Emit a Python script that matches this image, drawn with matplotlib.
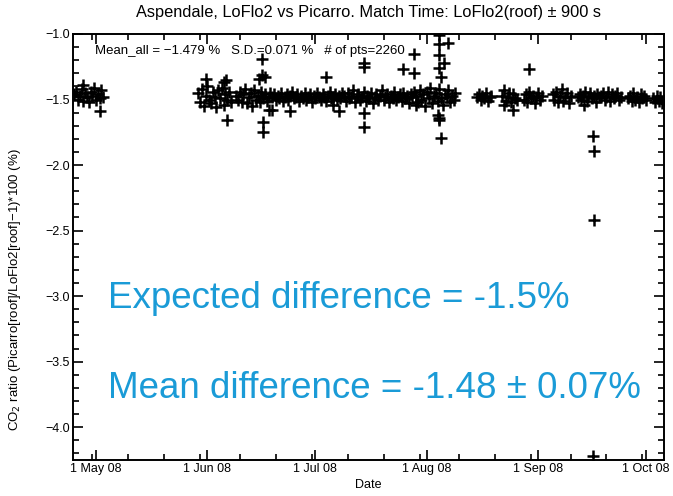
import numpy as np
import pandas as pd
import matplotlib
matplotlib.use("Agg")
import matplotlib.pyplot as plt
import matplotlib.dates as mdates
from matplotlib.ticker import MultipleLocator, FuncFormatter

plt.rcParams['font.family'] = ['Liberation Sans', 'DejaVu Sans']

# dense parts of the record: start time, then one value every 12 h
seg1_start = "2008-04-25"
seg1 = [-1.46, -1.44, -1.50, -1.47, -1.42, -1.51, -1.45, -1.48, -1.52, -1.44,
        -1.47, -1.41, -1.50, -1.46, -1.49, -1.43, -1.48]

seg2_start = "2008-05-29 12:00"
seg2 = [-1.45, -1.52, -1.42, -1.55, -1.47, -1.40, -1.50, -1.53, -1.44, -1.48,
        -1.56, -1.43, -1.49, -1.41, -1.54, -1.46, -1.50, -1.44, -1.52]

seg3_start = "2008-06-09"
seg3 = [-1.47, -1.50, -1.44, -1.52, -1.46, -1.42, -1.53, -1.48, -1.45, -1.55,
        -1.43, -1.50, -1.47, -1.52, -1.44, -1.49, -1.46, -1.51, -1.48, -1.45,
        -1.48, -1.46, -1.50, -1.47, -1.49, -1.45, -1.51, -1.48, -1.46, -1.50,
        -1.47, -1.44, -1.49, -1.48, -1.46, -1.51, -1.47, -1.49, -1.45, -1.50,
        -1.48, -1.46, -1.52, -1.47, -1.49, -1.45, -1.48, -1.50, -1.46, -1.48,
        -1.51, -1.47, -1.44, -1.49, -1.48, -1.46, -1.50, -1.47, -1.49, -1.45,
        -1.47, -1.51, -1.45, -1.49, -1.48, -1.43, -1.52, -1.47, -1.46, -1.50,
        -1.48, -1.44, -1.51, -1.47, -1.49, -1.45, -1.53, -1.48, -1.46, -1.50,
        -1.47, -1.43, -1.50, -1.48, -1.46, -1.52, -1.47, -1.49, -1.44, -1.50,
        -1.48, -1.46, -1.51, -1.45, -1.49, -1.47, -1.53, -1.46, -1.48, -1.44,
        -1.47, -1.52, -1.43, -1.50, -1.46, -1.55, -1.44, -1.49, -1.41, -1.53,
        -1.47, -1.45, -1.51, -1.42, -1.49, -1.54, -1.46, -1.48, -1.43, -1.52,
        -1.47, -1.50, -1.45]

c1_start = "2008-08-15"
c1 = [-1.48, -1.46, -1.50, -1.47, -1.49, -1.45, -1.51, -1.48, -1.47]
c2_start = "2008-08-22"
c2 = [-1.47, -1.43, -1.51, -1.48, -1.45, -1.52, -1.46, -1.49, -1.50]
c3_start = "2008-08-28"
c3 = [-1.50, -1.46, -1.52, -1.44, -1.49, -1.47, -1.53, -1.48, -1.45, -1.50, -1.47]
c4_start = "2008-09-05"
c4 = [-1.46, -1.50, -1.44, -1.52, -1.47, -1.42, -1.51, -1.48, -1.45, -1.53, -1.47]
c5_start = "2008-09-12"
c5 = [-1.48, -1.46, -1.50, -1.47, -1.44, -1.51, -1.48, -1.45, -1.49, -1.47,
      -1.52, -1.46, -1.48]
c6_start = "2008-09-18 12:00"
c6 = [-1.47, -1.45, -1.50, -1.48, -1.44, -1.51, -1.46, -1.49, -1.47, -1.45,
      -1.50, -1.48]
c7_start = "2008-09-26"
c7 = [-1.49, -1.47, -1.51, -1.45, -1.50, -1.48, -1.52, -1.46, -1.49, -1.47, -1.50]
c8_start = "2008-10-03"
c8 = [-1.49, -1.52, -1.47, -1.51, -1.48, -1.53, -1.50]

# scattered points away from the band
out_dates = ["2008-04-27 12:00", "2008-05-02 03:00",
             "2008-05-31 14:00", "2008-06-05 12:00", "2008-06-06 05:00", "2008-06-06 12:00",
             "2008-06-15 07:00", "2008-06-16 07:00", "2008-06-16 07:00", "2008-06-17 00:00",
             "2008-06-16 14:00", "2008-06-16 14:00", "2008-06-18 00:00", "2008-06-19 00:00",
             "2008-06-23 22:00", "2008-07-04 00:00", "2008-07-06 00:00", "2008-07-07 14:00",
             "2008-07-14 14:00", "2008-07-14 14:00", "2008-07-14 14:00", "2008-07-14 14:00",
             "2008-07-25 10:00", "2008-07-28 12:00", "2008-07-28 14:00", "2008-07-29 00:00",
             "2008-08-04 12:00", "2008-08-04 12:00", "2008-08-07 00:00", "2008-08-04 12:00",
             "2008-08-05 22:00", "2008-08-04 12:00", "2008-08-05 02:00", "2008-08-04 05:00",
             "2008-08-04 12:00", "2008-08-04 12:00", "2008-08-05 02:00",
             "2008-08-22 14:00", "2008-08-25 02:00", "2008-08-29 10:00", "2008-09-13 17:00",
             "2008-09-16 05:00", "2008-09-16 12:00", "2008-09-16 12:00", "2008-09-16 05:00"]
out_vals = [-1.39, -1.59,
            -1.34, -1.37, -1.35, -1.66,
            -1.34, -1.19, -1.31, -1.33,
            -1.67, -1.75, -1.58, -1.58,
            -1.59, -1.33, -1.54, -1.59,
            -1.22, -1.25, -1.60, -1.71,
            -1.27, -1.15, -1.30, -1.54,
            -1.01, -1.08, -1.07, -1.16,
            -1.22, -1.26, -1.33, -1.62,
            -1.64, -1.66, -1.79,
            -1.54, -1.58, -1.27, -1.54,
            -1.78, -1.89, -2.42, -4.22]

segments = [(seg1_start, seg1), (seg2_start, seg2), (seg3_start, seg3),
            (c1_start, c1), (c2_start, c2), (c3_start, c3), (c4_start, c4),
            (c5_start, c5), (c6_start, c6), (c7_start, c7), (c8_start, c8)]

t_all = [pd.date_range(s, periods=len(v), freq="12h") for s, v in segments]
t_all.append(pd.to_datetime(out_dates))
x = np.concatenate([t.to_numpy() for t in t_all])
y = np.concatenate([np.array(v) for s, v in segments] + [np.array(out_vals)])

fig = plt.figure(figsize=(6.73, 4.96), dpi=100)
ax = fig.add_axes([0.108, 0.0726, 0.8786, 0.8589])

ax.plot(x, y, linestyle="none", marker="+", color="black", markersize=8.5, markeredgewidth=1.8)

ax.set_xlim(pd.Timestamp("2008-04-24 12:00"), pd.Timestamp("2008-10-06"))
ax.set_ylim(-4.25, -1.0)

ax.xaxis.set_major_locator(mdates.MonthLocator())
ax.xaxis.set_minor_locator(mdates.DayLocator(bymonthday=[10, 20, 30]))
ax.xaxis.set_major_formatter(FuncFormatter(
    lambda v, p: mdates.num2date(v).strftime("%d %b %y").lstrip("0")))
ax.yaxis.set_major_locator(MultipleLocator(0.5))
ax.yaxis.set_minor_locator(MultipleLocator(0.1))
ax.yaxis.set_major_formatter(FuncFormatter(lambda v, p: f"{v:.1f}".replace("-", "\u2212")))

ax.tick_params(which="both", direction="in", top=True, right=True, width=1.2, labelsize=9, pad=2)
ax.tick_params(which="major", length=7)
ax.tick_params(which="minor", length=4)
for sp in ax.spines.values():
    sp.set_linewidth(1.4)

ax.set_title("Aspendale, LoFlo2 vs Picarro. Match Time: LoFlo2(roof) \u00b1 900 s", fontsize=11.8, pad=12)
ax.set_xlabel("Date", fontsize=9, labelpad=3)
ax.set_ylabel("CO$_2$ ratio (Picarro[roof]/LoFlo2[roof]\u22121)*100 (%)", fontsize=9.5)
ax.yaxis.set_label_coords(-0.084, 0.40)

ax.text(0.038, 0.96, "Mean_all = \u22121.479 %   S.D.=0.071 %   # of pts=2260",
        transform=ax.transAxes, fontsize=9.5, va="center")

blue = "#1a9bd7"
ax.text(0.06, 0.380, "Expected difference = -1.5%", transform=ax.transAxes,
        fontsize=26.5, color=blue, va="center")
ax.text(0.06, 0.168, "Mean difference = -1.48 \u00b1 0.07%", transform=ax.transAxes,
        fontsize=26.5, color=blue, va="center")

fig.savefig("out.png", dpi=100)
